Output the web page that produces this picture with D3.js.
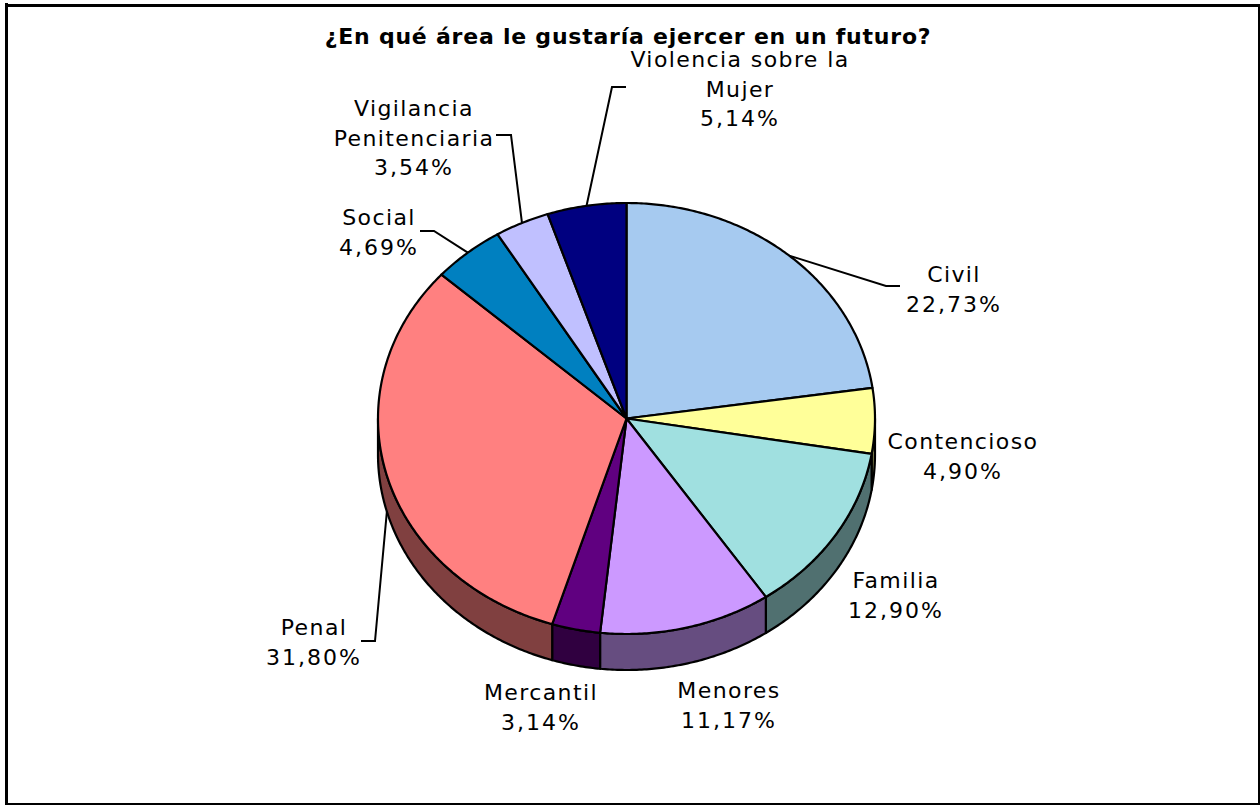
<!DOCTYPE html>
<html>
  <head>
    <title>¿En qué área le gustaría ejercer en un futuro?</title>
    <script src="https://d3js.org/d3.v7.min.js"></script>
    <style>
      html, body { margin: 0; padding: 0; background: #fff; }
      svg { display: block; }
      text { font-family: "DejaVu Sans", sans-serif; font-size: 22px; fill: #000; }
      .title { font-weight: bold; letter-spacing: 0.77px; }
      .name { letter-spacing: 1.4px; }
      .pct { letter-spacing: 2px; }
    </style>
  </head>
  <body>
    <div id="chart"></div>
    <script>
      const categories = ["Civil", "Contencioso", "Familia", "Menores", "Mercantil", "Penal", "Social", "Vigilancia Penitenciaria", "Violencia sobre la Mujer"];
      const values = [22.73, 4.9, 12.9, 11.17, 3.14, 31.8, 4.69, 3.54, 5.14];
      const topColors = ["#a6caf0", "#ffff99", "#a0e0e0", "#cc99ff", "#600080", "#ff8080", "#0080c0", "#c0c0ff", "#000080"];
      const wallColors = ["#536578", "#80804d", "#507070", "#664d80", "#300040", "#804040", "#004060", "#606080", "#000040"];

      // Label layout, one entry per category: text lines, centre, first baseline, leader elbow and end
      const labelLines = [
        ["Civil"],
        ["Contencioso"],
        ["Familia"],
        ["Menores"],
        ["Mercantil"],
        ["Penal"],
        ["Social"],
        ["Vigilancia", "Penitenciaria"],
        ["Violencia sobre la", "Mujer"],
      ];
      const labelX = [954, 963, 896, 729, 541, 314, 379, 414, 740];
      const labelY = [282, 449, 588, 698, 700, 635, 225, 116, 67];
      const leaders = [
        [[886, 286], [900, 286]],
        null,
        null,
        null,
        null,
        [[375, 641], [361, 641]],
        [[434, 231], [420, 231]],
        [[511, 135], [496, 135]],
        [[612, 87], [626, 87]],
      ];

      const width = 1260, height = 805, depth = 36, lineHeight = 29.5;

      const svg = d3.select("#chart").append("svg").attr("width", width).attr("height", height);

      // Frame, thick on the top and left, cut thin by the page edge on the other two sides
      svg.append("rect").attr("x", 5).attr("y", 3).attr("width", 3).attr("height", 802).attr("fill", "#000");
      svg.append("rect").attr("x", 5).attr("y", 4).attr("width", 1255).attr("height", 3).attr("fill", "#000");
      svg.append("rect").attr("x", 1258).attr("y", 4).attr("width", 2).attr("height", 801).attr("fill", "#000");
      svg.append("rect").attr("x", 5).attr("y", 803).attr("width", 1255).attr("height", 2).attr("fill", "#000");

      // Unit circle coordinates mapped to the flattened pie
      const sx = d3.scaleLinear().domain([-1, 1]).range([378, 875]);
      const sy = d3.scaleLinear().domain([-1, 1]).range([203, 634]);
      const px = (t) => sx(Math.sin(t));
      const py = (t) => sy(-Math.cos(t));

      const pie = d3.pie().sort(null).value((d, i) => values[i]);
      const slices = pie(categories);

      const arcPoints = (a0, a1) => {
        const n = Math.max(2, Math.ceil((a1 - a0) / 0.01));
        return d3.range(n + 1).map((i) => a0 + ((a1 - a0) * i) / n);
      };
      const line = d3.line();

      // Side wall, only the front half of the rim shows
      svg.append("g").selectAll("path")
        .data(slices.filter((d) => d.endAngle > Math.PI / 2 && d.startAngle < (3 * Math.PI) / 2))
        .join("path")
        .attr("d", (d) => {
          const a0 = Math.max(d.startAngle, Math.PI / 2);
          const a1 = Math.min(d.endAngle, (3 * Math.PI) / 2);
          const ts = arcPoints(a0, a1);
          const upper = ts.map((t) => [px(t), py(t)]);
          const lower = ts.slice().reverse().map((t) => [px(t), py(t) + depth]);
          return line(upper.concat(lower)) + "Z";
        })
        .attr("fill", (d) => wallColors[d.index])
        .attr("stroke", "#000")
        .attr("stroke-width", 2.2)
        .attr("stroke-linejoin", "round");

      // Top face
      svg.append("g").selectAll("path")
        .data(slices)
        .join("path")
        .attr("d", (d) => {
          const rim = arcPoints(d.startAngle, d.endAngle).map((t) => [px(t), py(t)]);
          return line([[sx(0), sy(0)]].concat(rim)) + "Z";
        })
        .attr("fill", (d) => topColors[d.index])
        .attr("stroke", "#000")
        .attr("stroke-width", 2.2)
        .attr("stroke-linejoin", "round");

      // Leader lines start on the rim at the middle of the slice
      svg.append("g").selectAll("path")
        .data(slices.filter((d) => leaders[d.index]))
        .join("path")
        .attr("d", (d) => {
          const mid = (d.startAngle + d.endAngle) / 2;
          const drop = d.index === 5 ? depth : 0; // Penal leaves from the bottom of the wall
          return line([[px(mid), py(mid) + drop]].concat(leaders[d.index]));
        })
        .attr("fill", "none")
        .attr("stroke", "#000")
        .attr("stroke-width", 2);

      // Labels
      const fmt = (v) => v.toFixed(2).replace(".", ",") + "%";
      const labels = svg.append("g").selectAll("text")
        .data(slices)
        .join("text")
        .attr("text-anchor", "middle")
        .attr("x", (d) => labelX[d.index])
        .attr("y", (d) => labelY[d.index]);
      labels.selectAll("tspan")
        .data((d) => labelLines[d.index]
          .map((s) => ({ s, x: labelX[d.index], cls: "name" }))
          .concat({ s: fmt(values[d.index]), x: labelX[d.index], cls: "pct" }))
        .join("tspan")
        .attr("class", (d) => d.cls)
        .attr("x", (d) => d.x)
        .attr("dy", (d, i) => (i ? lineHeight : 0))
        .text((d) => d.s);

      svg.append("text").attr("class", "title")
        .attr("text-anchor", "middle")
        .attr("x", 628).attr("y", 44)
        .text("¿En qué área le gustaría ejercer en un futuro?");
    </script>
  </body>
</html>
